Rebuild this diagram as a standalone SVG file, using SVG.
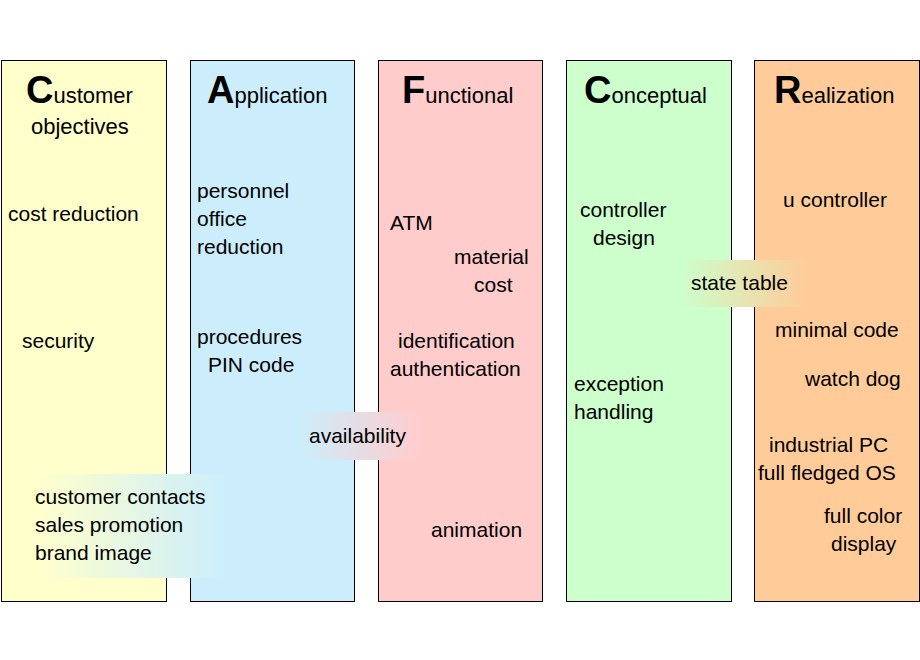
<svg xmlns="http://www.w3.org/2000/svg" width="920" height="660" viewBox="0 0 920 660">
<style>
.col{stroke:#000;stroke-width:1}
text{font-family:"Liberation Sans",Arial,sans-serif;font-size:21px;fill:#000}
.big{font-size:38px;font-weight:bold}
.hd{font-size:22px}
</style>
<defs>
<linearGradient id="gYB"><stop offset="0" stop-color="#ffffcc"/><stop offset="1" stop-color="#cceefc"/></linearGradient>
<linearGradient id="gBP"><stop offset="0" stop-color="#cceefc"/><stop offset="1" stop-color="#ffcccc"/></linearGradient>
<linearGradient id="gGO"><stop offset="0" stop-color="#ccffcc"/><stop offset="1" stop-color="#ffcc99"/></linearGradient>
</defs>
<rect width="920" height="660" fill="#fff"/>
<g id="customer">
<rect class="col" x="1.5" y="60.5" width="165" height="541" fill="#ffffcc"/>
<text x="26" y="103"><tspan class="big">C</tspan><tspan class="hd">ustomer</tspan></text>
<text x="31" y="134" class="hd">objectives</text>
<text x="8" y="221">cost reduction</text>
<text x="22" y="348">security</text>
</g>
<g id="application">
<rect class="col" x="190.5" y="60.5" width="164" height="541" fill="#cceefc"/>
<text x="207" y="103"><tspan class="big">A</tspan><tspan class="hd">pplication</tspan></text>
<text x="197" y="198">personnel</text>
<text x="197" y="226">office</text>
<text x="197" y="254">reduction</text>
<text x="197" y="344">procedures</text>
<text x="208" y="372">PIN code</text>
</g>
<g id="functional">
<rect class="col" x="378.5" y="60.5" width="164" height="541" fill="#ffcccc"/>
<text x="402" y="103"><tspan class="big">F</tspan><tspan class="hd">unctional</tspan></text>
<text x="390" y="230">ATM</text>
<text x="454" y="264">material</text>
<text x="474" y="292">cost</text>
<text x="398" y="348">identification</text>
<text x="390" y="376">authentication</text>
<text x="431" y="537">animation</text>
</g>
<g id="conceptual">
<rect class="col" x="566.5" y="60.5" width="165" height="541" fill="#ccffcc"/>
<text x="584" y="103"><tspan class="big">C</tspan><tspan class="hd">onceptual</tspan></text>
<text x="580" y="217">controller</text>
<text x="593" y="245">design</text>
<text x="574" y="391">exception</text>
<text x="574" y="419">handling</text>
</g>
<g id="realization">
<rect class="col" x="754.5" y="60.5" width="165" height="541" fill="#ffcc99"/>
<text x="774" y="103"><tspan class="big">R</tspan><tspan class="hd">ealization</tspan></text>
<text x="783" y="207">u controller</text>
<text x="775" y="337">minimal code</text>
<text x="805" y="386">watch dog</text>
<text x="769" y="452">industrial PC</text>
<text x="758" y="480">full fledged OS</text>
<text x="824" y="523">full color</text>
<text x="831" y="551">display</text>
</g>
<g id="bridges">
<g id="customer-contacts">
<rect x="36" y="474" width="190" height="104" fill="url(#gYB)"/>
<text x="35" y="504">customer contacts</text>
<text x="35" y="532">sales promotion</text>
<text x="35" y="560">brand image</text>
</g>
<g id="availability">
<rect x="298" y="412" width="122" height="48" fill="url(#gBP)"/>
<text x="309" y="443">availability</text>
</g>
<g id="state-table">
<rect x="680" y="260" width="126" height="47" fill="url(#gGO)"/>
<text x="691" y="290">state table</text>
</g>
</g>
</svg>
